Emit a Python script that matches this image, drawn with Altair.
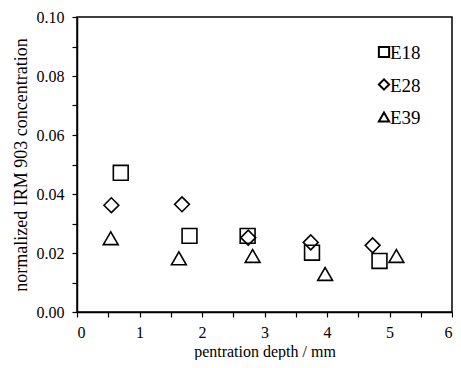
import altair as alt
import pandas as pd

series = ["E18", "E28", "E39"]
shapes = ["square", "diamond", "triangle-up"]
e18_x = [0.70, 1.80, 2.73, 3.76, 4.84]
e18_y = [0.0472, 0.0258, 0.0258, 0.0201, 0.0173]
e28_x = [0.55, 1.68, 2.74, 3.74, 4.73]
e28_y = [0.0362, 0.0365, 0.0252, 0.0236, 0.0226]
e39_x = [0.54, 1.63, 2.81, 3.97, 5.11]
e39_y = [0.0250, 0.0182, 0.0190, 0.0129, 0.0190]

rows = []
for name, xs, ys in [("E18", e18_x, e18_y), ("E28", e28_x, e28_y), ("E39", e39_x, e39_y)]:
    for xv, yv in zip(xs, ys):
        rows.append({"depth": xv, "conc": yv, "series": name})
df = pd.DataFrame(rows)

FONT = "Liberation Serif"

x_vals = [i * 0.5 for i in range(13)]
y_vals = [round(i * 0.01, 2) for i in range(11)]

points = alt.Chart(df).mark_point(filled=False, strokeWidth=1.6, color="black", opacity=1, size=220).encode(
    x=alt.X("depth:Q", title="pentration depth / mm",
            scale=alt.Scale(domain=[0, 6], nice=False, zero=True),
            axis=alt.Axis(values=x_vals, labelExpr="datum.value % 1 === 0 ? format(datum.value, 'd') : ''",
                          labelPadding=7, titlePadding=3, titleFontSize=16, labelLimit=0,
                          labelFont=FONT, titleFont=FONT)),
    y=alt.Y("conc:Q", title="normalized IRM 903 concentration",
            scale=alt.Scale(domain=[0, 0.1], nice=False),
            axis=alt.Axis(values=y_vals, labelExpr="round(datum.value * 100) % 2 === 0 ? format(datum.value, '.2f') : ''",
                          labelPadding=8, titlePadding=6, titleFontSize=18, labelLimit=0,
                          labelFont=FONT, titleFont=FONT)),
    shape=alt.Shape("series:N", scale=alt.Scale(domain=series, range=shapes), legend=None),
)

# legend drawn as its own small layers (one row per series)
legend_layers = []
for i, (name, shp) in enumerate(zip(series, shapes)):
    ldf = pd.DataFrame({"series": [name]})
    row_y = 35 + i * 32.5
    sym = alt.Chart(ldf).mark_point(shape=shp, filled=False, strokeWidth=2, color="black",
                                    opacity=1, size=105).encode(
        x=alt.value(307), y=alt.value(row_y))
    txt = alt.Chart(ldf).mark_text(align="left", baseline="middle", font=FONT, fontSize=19,
                                   color="black").encode(
        x=alt.value(313), y=alt.value(row_y + 1), text="series:N")
    legend_layers += [sym, txt]

chart = alt.layer(points, *legend_layers).properties(
    width=375, height=295,
    autosize=alt.AutoSizeParams(type="none"),
    padding={"left": 69, "top": 9, "right": 1, "bottom": 48},
    background="white",
).configure(
    font=FONT,
    view=alt.ViewConfig(stroke="black", strokeWidth=1.5),
    axis=alt.AxisConfig(
        grid=False, domainColor="black", tickColor="black", tickSize=5,
        domainWidth=1.5, tickWidth=1.2,
        labelFontSize=16, labelColor="black",
        titleFontWeight="normal", titleColor="black",
    ),
)

chart.save("out.html", embed_options={"renderer": "svg", "actions": False})
